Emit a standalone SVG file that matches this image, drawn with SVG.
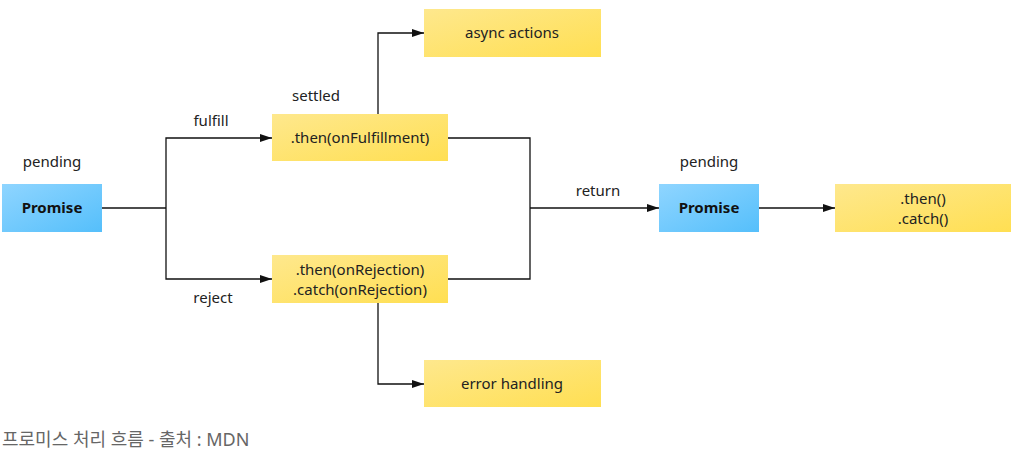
<svg xmlns="http://www.w3.org/2000/svg" width="1018" height="463" viewBox="0 0 1018 463">
<style>
text{font-family:"Noto Sans","Open Sans","Noto Sans CJK KR",sans-serif;font-size:15px;fill:#222;}
.lbl{text-anchor:middle;}
.b{font-weight:bold;fill:#111;}
.c{fill:none;stroke:#111;stroke-width:1.3;}
.cap{font-size:18px;fill:#666;}
</style>
<defs>
<linearGradient id="gb" x1="0" y1="0" x2="1" y2="1"><stop offset="0" stop-color="#8fd5ff"/><stop offset="1" stop-color="#55bffb"/></linearGradient>
<linearGradient id="gy" x1="0" y1="0" x2="1" y2="1"><stop offset="0" stop-color="#fee88d"/><stop offset="1" stop-color="#ffdf52"/></linearGradient>
<marker id="ar" markerWidth="12" markerHeight="8" refX="12" refY="4" orient="auto" markerUnits="userSpaceOnUse"><path d="M0,0 L12,4 L0,8 Z" fill="#111"/></marker>
</defs>
<g id="connectors">
<path class="c" d="M102,208 H166"/>
<path class="c" d="M166,208 V138 H272" marker-end="url(#ar)"/>
<path class="c" d="M166,208 V279 H272" marker-end="url(#ar)"/>
<path class="c" d="M378,114 V33 H424" marker-end="url(#ar)"/>
<path class="c" d="M378,303 V384 H424" marker-end="url(#ar)"/>
<path class="c" d="M448,138 H530 V279 H448"/>
<path class="c" d="M530,208 H659" marker-end="url(#ar)"/>
<path class="c" d="M759,208 H835" marker-end="url(#ar)"/>
</g>
<g id="promise1"><rect x="2" y="184" width="100" height="48" fill="url(#gb)"/><text class="lbl b" x="52" y="213">Promise</text></g>
<g id="then-fulfill"><rect x="272" y="114" width="176" height="47" fill="url(#gy)"/><text class="lbl" x="360" y="143">.then(onFulfillment)</text></g>
<g id="then-reject"><rect x="272" y="255" width="176" height="48" fill="url(#gy)"/><text class="lbl" x="360" y="275">.then(onRejection)</text><text class="lbl" x="360" y="295">.catch(onRejection)</text></g>
<g id="async"><rect x="424" y="9" width="177" height="48" fill="url(#gy)"/><text class="lbl" x="512" y="38">async actions</text></g>
<g id="error"><rect x="424" y="360" width="177" height="47" fill="url(#gy)"/><text class="lbl" x="512" y="389">error handling</text></g>
<g id="promise2"><rect x="659" y="184" width="100" height="48" fill="url(#gb)"/><text class="lbl b" x="709" y="213">Promise</text></g>
<g id="thencatch"><rect x="835" y="184" width="176" height="48" fill="url(#gy)"/><text class="lbl" x="923" y="204">.then()</text><text class="lbl" x="923" y="224">.catch()</text></g>
<g id="labels">
<text class="lbl" x="52" y="167">pending</text>
<text class="lbl" x="316" y="101">settled</text>
<text class="lbl" x="211" y="126">fulfill</text>
<text class="lbl" x="213" y="303">reject</text>
<text class="lbl" x="598" y="196">return</text>
<text class="lbl" x="709" y="167">pending</text>
<text class="cap" x="2" y="446">프로미스 처리 흐름 - 출처 : MDN</text>
</g>
</svg>
